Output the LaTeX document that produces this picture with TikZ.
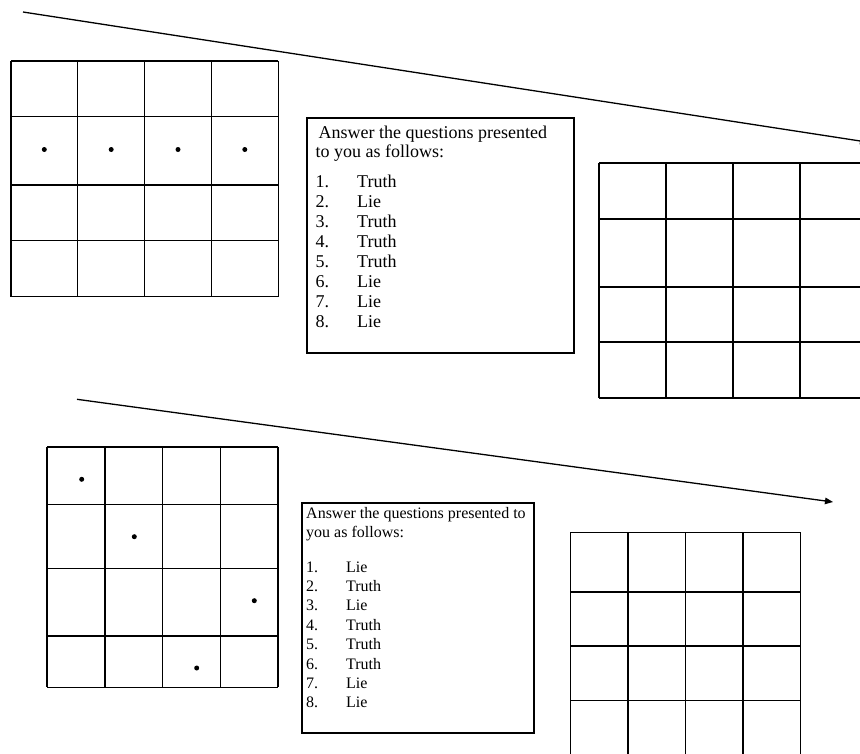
\documentclass[tikz,border=0pt]{standalone}
\usepackage{fontspec}
\setmainfont{Liberation Serif}
\usetikzlibrary{arrows.meta}
\tikzset{
  gridline/.style={line width=1.2pt, black},
  textbox/.style={draw, line width=2pt, rectangle, inner sep=0pt, anchor=north west},
  dotmark/.style={circle, fill=black, inner sep=0pt, minimum size=5pt},
  connector/.style={line width=1.3pt, -{Triangle[length=8pt,width=6.5pt]}},
  txtA/.style={anchor=base west, inner sep=0pt, font=\fontsize{18}{20}\selectfont},
  txtB/.style={anchor=base west, inner sep=0pt, font=\fontsize{16}{19}\selectfont}
}
\begin{document}
\begin{tikzpicture}[x=1pt,y=-1pt]
\useasboundingbox (0,0) rectangle (860,753);
\clip (0,0) rectangle (860,753);
\fill[white] (0,0) rectangle (860,753);

% connectors
\coordinate (a1s) at (23,12);
\coordinate (a1e) at (868,142.2);
\coordinate (a2s) at (77,399.3);
\coordinate (a2e) at (833,502);
\draw[connector] (a1s) -- (a1e);
\draw[connector] (a2s) -- (a2e);

% top-left grid
\foreach \x in {11,77.7,144.7,211.3,278.3} \draw[gridline] (\x,61) -- (\x,296.7);
\foreach \y in {61,116.7,185,240.7,296.7} \draw[gridline] (11,\y) -- (278.3,\y);
\node[dotmark] (d1) at (44.3,149.5) {};
\node[dotmark] (d2) at (111.2,149.5) {};
\node[dotmark] (d3) at (178,149.5) {};
\node[dotmark] (d4) at (244.8,149.5) {};

% top-right grid
\foreach \x in {599,666,733,800,867} \draw[gridline] (\x,163) -- (\x,398);
\foreach \y in {163,219,287,342,398} \draw[gridline] (599,\y) -- (867,\y);

% bottom-left grid
\foreach \x in {47,105,162.7,220.3,278} \draw[gridline] (\x,447) -- (\x,687.3);
\foreach \y in {447,504.3,568.3,636,687.3} \draw[gridline] (47,\y) -- (278,\y);
\node[dotmark] (e1) at (81.7,479.3) {};
\node[dotmark] (e2) at (134.3,536.7) {};
\node[dotmark] (e3) at (254.3,600.7) {};
\node[dotmark] (e4) at (196.7,668) {};

% bottom-right grid
\foreach \x in {570.3,628,685.7,743,800.7} \draw[gridline] (\x,532.7) -- (\x,758);
\foreach \y in {532.7,592,646,700.7} \draw[gridline] (570.3,\y) -- (800.7,\y);

% top text box
\node[textbox, minimum width=267pt, minimum height=235pt] (boxA) at (306,117.3) {};
\node[txtA] (ta0) at (318.5,138.5) {Answer the questions presented};
\node[txtA] (ta1) at (315.5,157.5) {to you as follows:};
\foreach \n/\w [count=\i from 0] in {1/Truth,2/Lie,3/Truth,4/Truth,5/Truth,6/Lie,7/Lie,8/Lie}{
  \node[txtA] (tan\n) at (315.5,187+20*\i) {\n.};
  \node[txtA] (taw\n) at (357,187+20*\i) {\w};
}

% bottom text box
\node[textbox, minimum width=232pt, minimum height=230pt] (boxB) at (301,502.3) {};
\node[txtB] (tb0) at (306,518) {Answer the questions presented to};
\node[txtB] (tb1) at (306,537) {you as follows:};
\foreach \n/\w [count=\i from 0] in {1/Lie,2/Truth,3/Lie,4/Truth,5/Truth,6/Truth,7/Lie,8/Lie}{
  \node[txtB] (tbn\n) at (306,572+19.4*\i) {\n.};
  \node[txtB] (tbw\n) at (346,572+19.4*\i) {\w};
}
\end{tikzpicture}
\end{document}
